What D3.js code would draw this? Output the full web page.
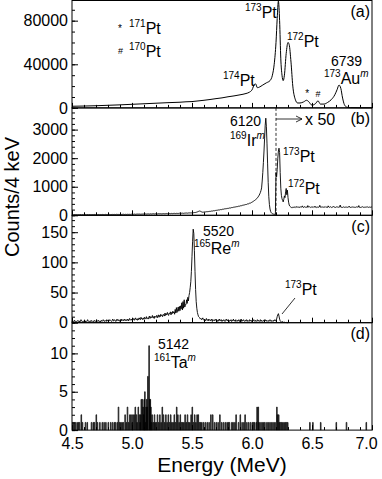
<!DOCTYPE html>
<html>
<head>
<meta charset="utf-8">
<script src="https://cdn.jsdelivr.net/npm/d3@7"></script>
<style>
  body { margin: 0; background: #fff; }
  svg { font-family: "Liberation Sans", Arial, Helvetica, sans-serif; }
</style>
</head>
<body>
<svg id="chart" width="382" height="479"></svg>
<script>
// (a) total spectrum: [MeV, counts]
const specA = [
  [4.50, 1500], [4.60, 1700], [4.70, 2000], [4.80, 2400], [4.90, 2800], [5.00, 3300],
  [5.10, 3800], [5.20, 4300], [5.30, 4800], [5.40, 5200], [5.45, 5600], [5.50, 5800],
  [5.55, 6400], [5.60, 7000], [5.65, 7700], [5.70, 8500], [5.75, 9200], [5.80, 10200],
  [5.85, 11000], [5.90, 12000], [5.95, 13200], [5.98, 14500], [6.00, 16500], [6.02, 21500],
  [6.03, 22000], [6.045, 18500], [6.06, 19000], [6.09, 21000], [6.12, 23000], [6.15, 25000],
  [6.17, 30000], [6.185, 40000], [6.20, 60000], [6.21, 82000], [6.22, 98000], [6.23, 80000],
  [6.24, 45000], [6.25, 30000], [6.26, 25000], [6.27, 30000], [6.285, 50000], [6.30, 60000],
  [6.31, 58000], [6.325, 42000], [6.34, 20000], [6.36, 8000], [6.38, 4500], [6.40, 4500],
  [6.43, 5500], [6.455, 7000], [6.47, 6000], [6.50, 2500], [6.53, 4000], [6.55, 6500],
  [6.57, 3500], [6.60, 3500], [6.63, 5000], [6.66, 7500], [6.69, 12000], [6.71, 17000],
  [6.725, 21000], [6.74, 18000], [6.755, 9000], [6.77, 3000], [6.79, 700], [6.82, 200],
  [6.90, 100], [7.00, 100]
];

// (b) and (c): counts per 5 keV channel, first channel at 4.5 MeV
const chanStart = 4.5;
const chanWidth = 0.005;

// (b) above 6.2 MeV the values are already multiplied by 50
const countsB = [
  20,24,18,22,27,19,23,25,21,18, 26,22,19,24,28,21,17,23,26,20,
  22,25,30,21,19,24,27,23,20,26, 29,22,25,21,24,28,23,26,30,22,
  25,27,21,24,29,26,22,28,25,23, 27,30,24,26,22,29,31,25,27,24,
  28,26,32,27,24,30,28,25,33,29, 27,31,26,29,34,28,30,27,32,29,
  31,35,28,30,33,29,36,31,28,34, 32,30,36,33,31,37,34,30,35,38,
  36,40,34,38,42,37,35,41,39,43, 38,42,45,40,37,44,41,46,39,43,
  47,42,45,49,44,41,48,46,50,43, 47,52,48,45,51,49,54,47,50,53,
  49,55,52,48,56,51,54,58,52,50, 57,54,60,55,53,59,56,62,58,55,
  61,58,64,60,57,63,66,61,59,65, 62,68,64,61,67,70,65,63,69,72,
  68,66,73,70,75,71,69,76,73,78, 74,80,77,75,82,79,84,81,86,83,
  88,85,92,90,96,94,100,105,112,120, 128,138,146,150,142,130,120,112,108,110,
  114,118,116,122,126,120,128,132,130,136, 140,138,145,150,148,155,160,156,164,170,
  168,175,180,178,186,192,188,196,202,198, 206,212,210,218,225,222,230,236,232,240,
  246,244,252,258,255,264,270,268,276,282, 280,288,295,292,300,308,305,314,320,318,
  326,334,332,342,350,348,358,366,364,374, 382,380,392,402,400,412,424,422,436,448,
  460,472,486,500,515,530,548,565,585,610, 640,670,705,750,800,870,960,1200,1500,1850,
  2250,2700,3150,3400,3100,2500,1800,1150,650,380, 220,140,95,70,55,45,40,36,33,30,
  1500,1350,1600,2000,2250,2350,2200,1500,950,700, 580,520,470,560,680,620,820,940,720,880,
  620,460,360,320,300,285,270,290,265,280, 275,285,300,270,290,310,280,275,295,285,
  270,300,285,290,330,280,275,290,305,280, 295,285,275,340,290,280,300,285,275,290,
  280,290,275,300,285,320,280,290,270,285, 295,280,290,350,285,275,290,300,280,285,
  270,290,305,280,285,295,275,330,290,280, 285,300,280,275,290,285,310,280,290,275,
  285,295,280,300,285,270,290,360,285,280, 290,275,285,300,280,290,285,275,295,280,
  285,290,320,280,275,290,285,300,280,285, 290,280,275,285,295,280,290,285,340,280,
  285,275,290,280,300,285,280,290,275,285, 280,290,285,300,280,275,290,285,280,290,
  285
];

const countsC = [
  2,3,1,2,4,2,3,1,2,3, 4,2,1,3,2,5,3,2,1,3,
  2,4,3,1,2,3,5,2,3,2, 1,3,4,2,3,2,1,4,3,2,
  3,5,2,3,4,2,3,1,3,4, 2,3,5,3,2,4,3,2,5,3,
  4,2,3,5,4,3,2,4,6,3, 3,5,4,2,3,6,4,3,5,4,
  2,4,6,3,5,4,3,6,4,5, 3,5,4,6,3,5,7,4,5,6,
  4,6,5,7,4,6,8,5,6,4, 7,5,8,6,5,9,6,7,5,8,
  6,9,7,6,10,7,8,6,9,11, 7,10,8,9,12,8,10,7,11,9,
  10,12,8,11,13,9,12,10,14,11, 12,10,14,13,11,16,12,15,13,17,
  14,12,16,15,18,13,17,15,19,16, 18,14,22,16,25,17,21,26,19,27,
  20,28,23,33,21,35,24,38,26,30, 30,38,32,42,36,45,50,58,68,85,
  110,135,155,148,120,85,55,35,24,17, 13,10,9,8,6,7,5,6,8,5,
  4,6,3,5,7,4,5,3,6,4, 5,3,4,6,2,5,4,3,5,4,
  6,3,4,2,5,3,6,4,3,5, 2,4,3,5,4,2,3,6,4,3,
  5,3,2,4,3,5,2,4,3,6, 3,4,2,5,3,2,4,3,5,2,
  4,3,6,2,4,3,5,3,2,4, 3,5,2,4,3,2,5,3,4,2,
  4,2,3,5,3,2,4,3,2,5, 3,4,2,3,5,2,4,3,2,4,
  3,2,5,3,4,2,3,4,2,3, 5,3,2,4,3,2,4,3,5,3,
  4,6,10,13,15,11,6,3,2,1, 1,2,1,0,1,1,0,1,0,0,
  0
];

// (d) non-empty 5 keV channels: [MeV, counts]
const hitsD = [
  [4.505,1],[4.515,1],[4.525,1],[4.54,1],[4.55,1],[4.56,1],[4.575,2],[4.585,1],[4.61,1],[4.625,1],
  [4.66,1],[4.675,1],[4.685,1],[4.70,2],[4.71,1],[4.73,1],[4.75,1],[4.765,1],[4.78,1],[4.80,1],
  [4.82,1],[4.835,1],[4.85,1],[4.86,1],[4.875,1],[4.885,3],[4.895,1],[4.905,1],[4.915,1],[4.925,1],
  [4.94,2],[4.95,1],[4.96,3],[4.97,1],[4.98,2],[4.99,2],[5.00,1],[5.005,2],[5.015,2],[5.025,3],
  [5.035,2],[5.04,1],[5.05,3],[5.06,2],[5.065,1],[5.07,2],[5.075,4],[5.085,4],[5.09,3],[5.095,2],
  [5.10,4],[5.105,5],[5.11,1],[5.115,3],[5.12,4],[5.125,3],[5.13,7],[5.14,11],[5.145,4],[5.15,4],
  [5.155,3],[5.16,1],[5.165,2],[5.175,1],[5.185,2],[5.19,1],[5.20,1],[5.21,2],[5.22,1],[5.23,2],
  [5.24,1],[5.25,3],[5.26,2],[5.27,1],[5.28,2],[5.29,1],[5.30,2],[5.31,1],[5.32,2],[5.33,1],
  [5.34,1],[5.35,2],[5.36,1],[5.37,3],[5.38,2],[5.39,1],[5.40,2],[5.41,1],[5.42,1],[5.43,1],
  [5.44,2],[5.45,1],[5.46,2],[5.47,1],[5.48,1],[5.49,2],[5.50,3],[5.51,1],[5.52,2],[5.53,1],
  [5.54,2],[5.55,2],[5.56,1],[5.57,1],[5.58,1],[5.595,1],[5.61,1],[5.625,1],[5.64,1],[5.655,2],
  [5.67,2],[5.685,1],[5.70,1],[5.715,1],[5.73,2],[5.745,1],[5.76,1],[5.775,1],[5.79,1],[5.80,1],
  [5.81,1],[5.83,1],[5.84,1],[5.855,1],[5.865,2],[5.885,1],[5.90,2],[5.915,1],[5.93,1],[5.94,2],
  [5.955,1],[5.97,1],[5.985,1],[6.00,1],[6.01,1],[6.02,1],[6.035,1],[6.04,3],[6.05,3],[6.055,1],
  [6.065,1],[6.08,1],[6.09,1],[6.10,1],[6.115,1],[6.13,1],[6.14,1],[6.155,1],[6.165,1],[6.18,1],
  [6.19,1],[6.205,3],[6.21,2],[6.22,2],[6.225,1],[6.235,1],[6.245,1],[6.255,1],[6.265,1],[6.275,1],
  [6.285,1],[6.295,1],[6.48,1],[6.505,1],[6.57,1],[6.70,1],[6.785,1],[6.95,1]
];

const xTicks = [4.5, 5.0, 5.5, 6.0, 6.5, 7.0];
const yMax = [98500, 3760, 178, 14];
const yTicks = [[0, 40000, 80000], [0, 1000, 2000, 3000], [0, 50, 100, 150], [0, 5, 10]];
const yMinorStep = [10000, 200, 10, 1];
const panelTags = ['(a)', '(b)', '(c)', '(d)'];

const svg = d3.select('#chart');
const left = 72, right = 372;
const panelTop = 0.5, panelH = 107.4;

const x = d3.scaleLinear().domain([4.5, 7.0]).range([left, right]);
const xMinor = d3.range(45, 71).map(d => d / 10);

const ys = yMax.map((m, i) => d3.scaleLinear()
  .domain([0, m])
  .range([panelTop + (i + 1) * panelH, panelTop + i * panelH]));

function styleAxis(g, size) {
  g.select('.domain').remove();
  g.selectAll('line').attr('stroke', '#000');
  g.selectAll('text').attr('font-size', size)
    .attr('font-family', '"Liberation Sans", Arial, sans-serif').attr('fill', '#000');
}

ys.forEach((y, i) => {
  const top = panelTop + i * panelH;
  const bottom = top + panelH;

  // minor and major ticks, pointing into the panel
  const minor = d3.range(0, yMax[i], yMinorStep[i]);
  svg.append('g').attr('transform', `translate(${left},0)`)
    .call(d3.axisLeft(y).tickValues(minor).tickSize(-3).tickFormat(''))
    .call(g => styleAxis(g, 16));
  svg.append('g').attr('transform', `translate(${left},0)`)
    .call(d3.axisLeft(y).tickValues(yTicks[i]).tickSize(-6).tickPadding(4).tickFormat(d3.format('d')))
    .call(g => styleAxis(g, 16));

  svg.append('g').attr('transform', `translate(0,${bottom})`)
    .call(d3.axisBottom(x).tickValues(xMinor).tickSize(-3).tickFormat(''))
    .call(g => styleAxis(g, 16));
  const xa = svg.append('g').attr('transform', `translate(0,${bottom})`)
    .call(d3.axisBottom(x).tickValues(xTicks).tickSize(-5).tickPadding(8)
      .tickFormat(i === 3 ? d3.format('.1f') : ''))
    .call(g => styleAxis(g, 16));
  // last label sits a little inside the right edge, as in the original
  xa.selectAll('text').filter(d => d === 7.0).attr('dx', -6);

  svg.append('rect')
    .attr('x', left).attr('y', top)
    .attr('width', right - left).attr('height', panelH)
    .attr('fill', 'none').attr('stroke', '#000').attr('stroke-width', 1);

  svg.append('text')
    .attr('x', 370).attr('y', top + 16.5)
    .attr('text-anchor', 'end').attr('font-size', 16)
    .text(panelTags[i]);
});

const chanLine = (y) => d3.line()
  .x((d, i) => x(chanStart + i * chanWidth))
  .y(d => y(d));

// (a)
svg.append('path')
  .attr('d', d3.line().x(d => x(d[0])).y(d => ys[0](d[1])).curve(d3.curveMonotoneX)(specA))
  .attr('fill', 'none').attr('stroke', '#000').attr('stroke-width', 1);

// (b)
svg.append('path')
  .attr('d', chanLine(ys[1])(countsB))
  .attr('fill', 'none').attr('stroke', '#000').attr('stroke-width', 0.9);

// (c)
svg.append('path')
  .attr('d', chanLine(ys[2])(countsC))
  .attr('fill', 'none').attr('stroke', '#000').attr('stroke-width', 0.9);

// (d) one outline per channel
const histLine = d3.line().x(d => x(d[0])).y(d => ys[3](d[1]));
svg.append('g').selectAll('path')
  .data(hitsD)
  .join('path')
  .attr('d', d => histLine([[d[0], 0], [d[0], d[1]], [d[0] + chanWidth, d[1]], [d[0] + chanWidth, 0]]))
  .attr('fill', 'none').attr('stroke', '#000').attr('stroke-width', 0.8);

// ---- labels ----
function isotope(px, py, mass, sym, meta) {
  const t = svg.append('text').attr('x', px).attr('y', py).attr('font-size', 16);
  t.append('tspan').attr('font-size', 10).attr('dy', -7).text(mass);
  t.append('tspan').attr('dy', 7).text(sym);
  if (meta) {
    t.append('tspan').attr('font-size', 10).attr('font-style', 'italic').attr('dy', -7).text(meta);
  }
}
function plain(px, py, s, size) {
  svg.append('text').attr('x', px).attr('y', py).attr('font-size', size).text(s);
}

// (a)
isotope(245, 18, '173', 'Pt');
isotope(287, 47, '172', 'Pt');
isotope(223, 86, '174', 'Pt');
plain(331, 66, '6739', 14);
isotope(324, 84, '173', 'Au', 'm');
plain(118, 32, '*', 10);
isotope(129, 34, '171', 'Pt');
plain(118, 54, '#', 9);
isotope(129, 57, '170', 'Pt');
svg.append('text').attr('x', x(6.46)).attr('y', 97).attr('text-anchor', 'middle')
  .attr('font-size', 10).text('*');
svg.append('text').attr('x', x(6.55)).attr('y', 97).attr('text-anchor', 'middle')
  .attr('font-size', 9).text('#');

// (b)
const xCut = x(6.2);
svg.append('line')
  .attr('x1', xCut).attr('x2', xCut)
  .attr('y1', ys[1].range()[1]).attr('y2', ys[1].range()[0])
  .attr('stroke', '#000').attr('stroke-width', 0.8).attr('stroke-dasharray', '3,2');
svg.append('line')
  .attr('x1', xCut).attr('x2', xCut + 26).attr('y1', 119).attr('y2', 119)
  .attr('stroke', '#000').attr('stroke-width', 0.8);
svg.append('path')
  .attr('d', `M${xCut + 20},116 L${xCut + 26},119 L${xCut + 20},122`)
  .attr('fill', 'none').attr('stroke', '#000').attr('stroke-width', 0.8);
plain(305, 125, 'x 50', 16);
plain(230, 126, '6120', 14);
isotope(230, 146, '169', 'Ir', 'm');
isotope(283, 162, '173', 'Pt');
isotope(288, 194, '172', 'Pt');

// (c)
plain(203, 236, '5520', 14);
isotope(194, 254, '165', 'Re', 'm');
isotope(285, 295, '173', 'Pt');
svg.append('line')
  .attr('x1', 282).attr('y1', 314).attr('x2', 295).attr('y2', 298)
  .attr('stroke', '#000').attr('stroke-width', 0.8);

// (d)
plain(158, 349, '5142', 14);
isotope(154, 368, '161', 'Ta', 'm');

// axis titles
svg.append('text')
  .attr('transform', 'translate(19,197) rotate(-90)')
  .attr('text-anchor', 'middle').attr('font-size', 20)
  .text('Counts/4 keV');
svg.append('text')
  .attr('x', 222).attr('y', 472)
  .attr('text-anchor', 'middle').attr('font-size', 21)
  .text('Energy (MeV)');
</script>
</body>
</html>
